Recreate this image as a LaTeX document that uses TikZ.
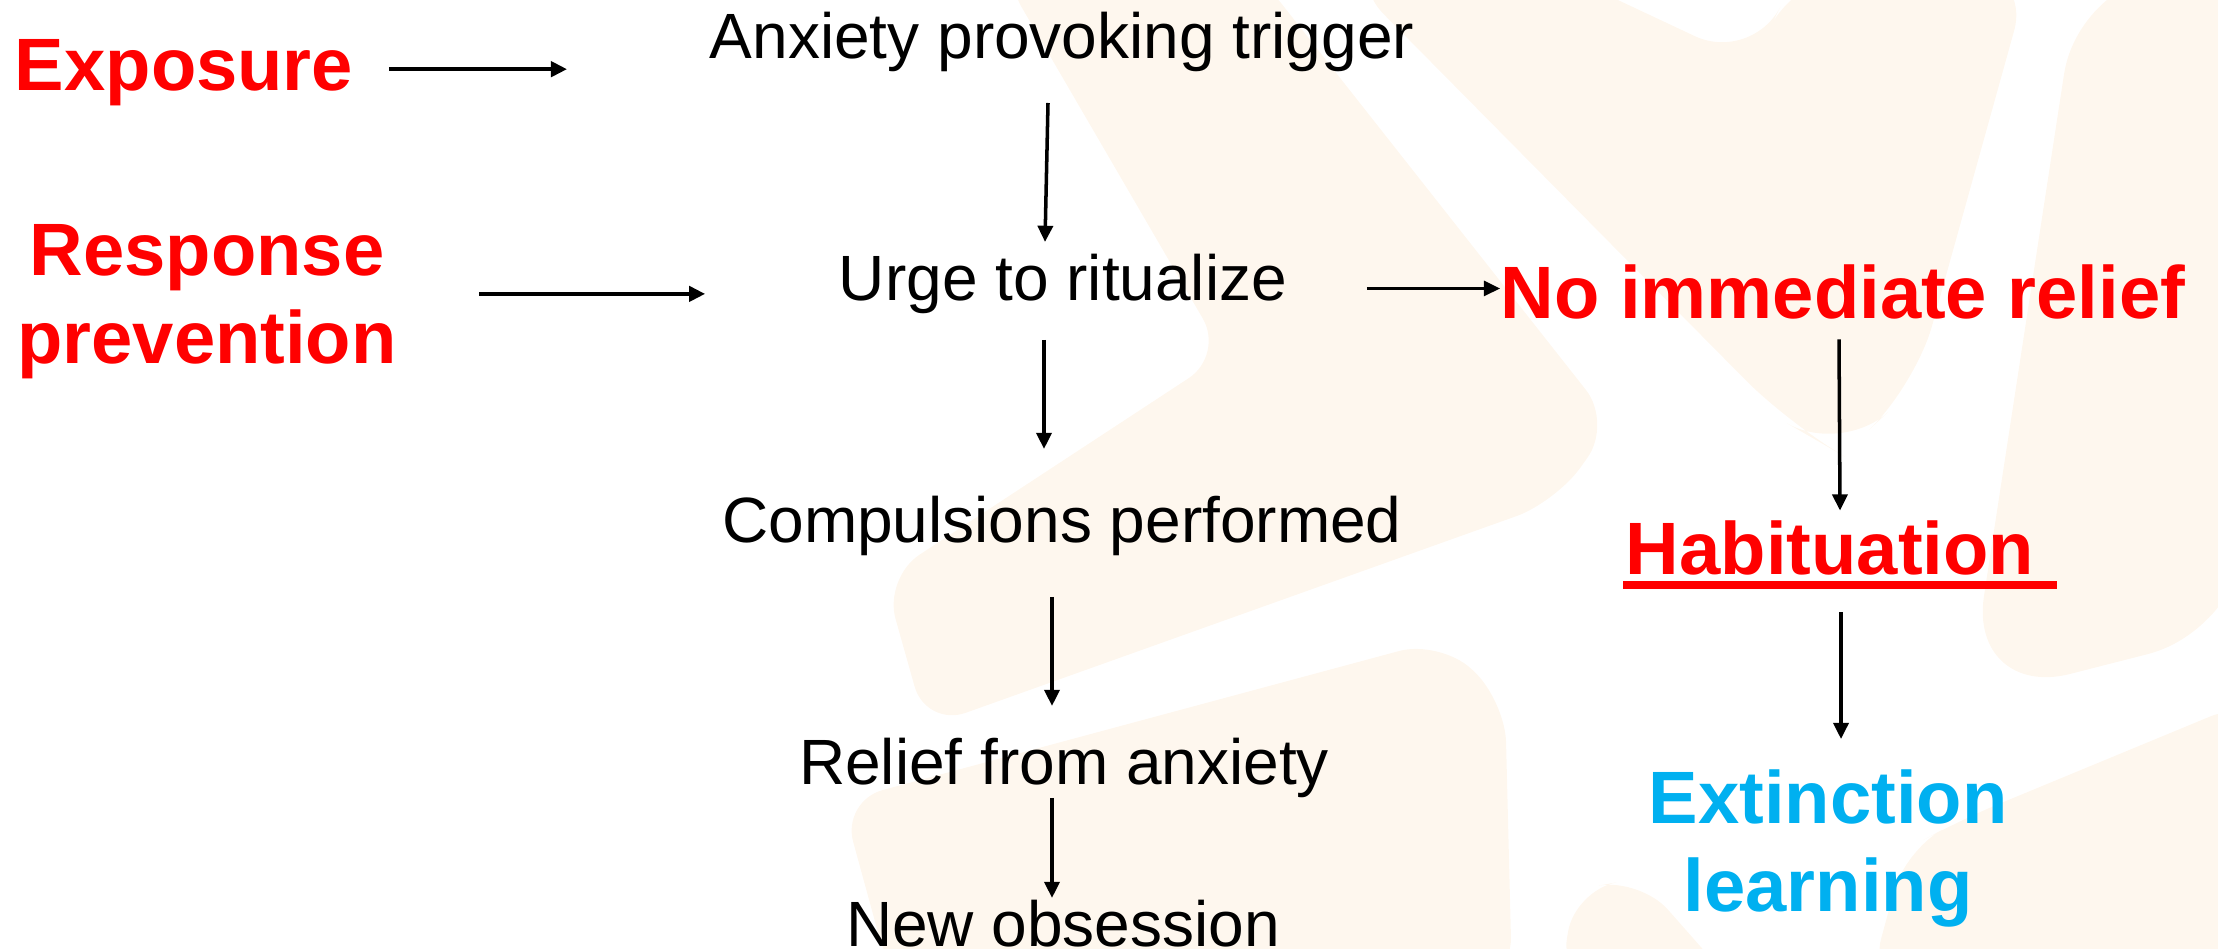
\documentclass[tikz,border=0pt]{standalone}
\usepackage{fontspec}
\setmainfont{Liberation Sans}
\usetikzlibrary{calc,arrows.meta}
\definecolor{pptred}{RGB}{255,0,0}
\definecolor{pptcyan}{RGB}{0,176,240}
\definecolor{wmark}{RGB}{254,247,238}
\begin{document}
\begin{tikzpicture}[x=0.01cm,y=-0.01cm,
  txt/.style={inner sep=0pt, font=\fontsize{18.2}{21.8}\selectfont, text=black},
  hot/.style={inner sep=0pt, font=\fontsize{21.1}{25}\selectfont\bfseries, text=pptred, align=center},
  cool/.style={hot, text=pptcyan},
  arr/.style={-{Triangle[length=4.6pt,width=4.3pt]}, line width=1pt},
  thk/.style={arr, line width=1.3pt},
  thn/.style={arr, line width=0.7pt},
  wm/.style={fill=wmark, rounded corners=12pt}
]
\useasboundingbox (0,0) rectangle (2218,948);
% watermark shapes
\fill[wm] (1000,-30) -- (1224,355) -- (884,578) -- (926,727) -- (1556,502) -- (1612,423) -- (1255,-30) -- cycle;
\fill[wm, rounded corners=18pt] (1340,-30) -- (1554,-30) -- (1752,63) -- (1799,-30) -- (2031,-30) -- (1915,387) -- (1842,455) -- (1790,425) -- cycle;
\fill[wm] (842,801) -- (1440,640) -- (1505,700) -- (1512,980) -- (891,980) -- cycle;
\fill[wm] (1560,980) -- (1575,890) -- (1640,878) -- (1730,980) -- cycle;
\fill[wm, rounded corners=30pt] (2080,-30) -- (2250,-30) -- (2250,628) -- (1968,700) -- cycle;
\fill[wm] (1870,980) -- (1905,850) -- (1960,820) -- (2250,700) -- (2250,980) -- cycle;
% nodes
\node[hot, anchor=base] (expo) at (184,90) {Exposure};
\node[hot, anchor=north] (resp) at (207,224) {Response\\prevention};
\node[txt, anchor=base] (trig) at (1062,58) {Anxiety provoking trigger};
\node[txt, anchor=base] (urge) at (1063,300) {Urge to ritualize};
\node[txt, anchor=base] (comp) at (1062,542) {Compulsions performed};
\node[txt, anchor=base] (reli) at (1064,784) {Relief from anxiety};
\node[txt, anchor=base] (newo) at (1063,946) {New obsession};
\node[hot, anchor=base] (nore) at (1843,318) {No immediate relief};
\node[hot, anchor=base] (habi) at (1830,574) {Habituation};
\node[cool, anchor=north] (exti) at (1828,769) {Extinction\\learning};
% underline
\fill[pptred] ($(habi.base west)+(-2,7)$) rectangle ($(habi.base east)+(22,15)$);
% connectors
\coordinate (e1) at ($(expo.east)+(35,-3)$);
\coordinate (e2) at ($(trig.west)+(-142,0)$);
\draw[thk] (e1) -- (e1 -| e2);
\coordinate (r1) at ($(resp.east)+(82,-8)$);
\coordinate (r2) at ($(urge.west)+(-133,0)$);
\draw[thk] (r1) -- (r1 -| r2);
\coordinate (u1) at ($(urge.east)+(79,5)$);
\draw[thn] (u1) -- (u1 -| nore.west);
\draw[arr] ($(trig.south)+(-14,31)$) -- ($(urge.north)+(-18,-11)$);
\draw[arr] ($(urge.south)+(-19,26)$) -- ($(comp.north)+(-18,-46)$);
\draw[arr] ($(comp.south)+(-10,41)$) -- ($(reli.north)+(-12,-31)$);
\draw[arr] ($(reli.south)+(-12,0)$) -- ($(newo.north)+(-11,-1)$);
\draw[arr] ($(nore.south)+(-4,20)$) -- ($(habi.north)+(10,-9)$);
\draw[arr] ($(habi.south)+(11,37)$) -- ($(exti.north)+(13,-30)$);
\end{tikzpicture}
\end{document}
